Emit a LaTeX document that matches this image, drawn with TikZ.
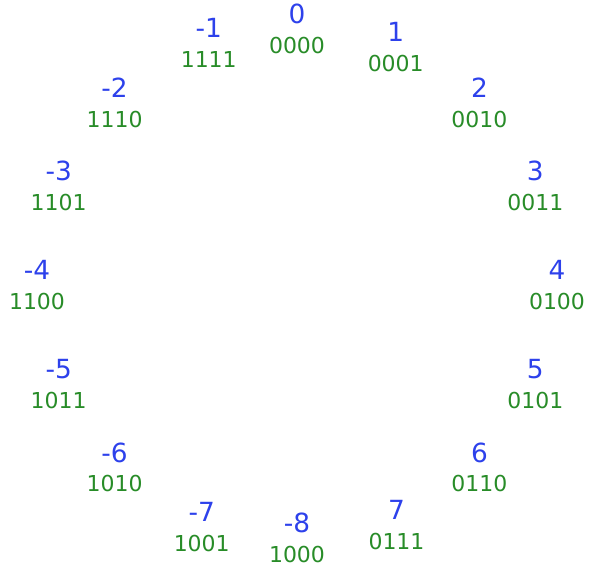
\documentclass[tikz,border=0pt]{standalone}
\usepackage{fontspec}
\setmainfont{DejaVu Sans}
\usepackage{xcolor}
\usepackage{tikz}
\usetikzlibrary{positioning}

\definecolor{numblue}{RGB}{45,65,235}
\definecolor{bingreen}{RGB}{40,140,40}
\newcommand{\decnum}[1]{{\color{numblue}\fontsize{15}{17}\selectfont #1}}
\newcommand{\binnum}[1]{{\color{bingreen}\fontsize{12.5}{17}\selectfont #1}}

\begin{document}
\begin{tikzpicture}[
  val/.style={align=center, inner sep=0pt, font=\fontsize{12.5}{17}\selectfont}
]
\useasboundingbox (-5.94,-5.64) rectangle (5.86,5.70);

% ----- right half (0 .. 7) -----
\node[val] (v0)  at (90:5.13)    {\decnum{0}\\\binnum{0000}};
\node[val] (v1)  at (67.5:5.16)  {\decnum{1}\\\binnum{0001}};
\node[val] (v2)  at (45:5.16)    {\decnum{2}\\\binnum{0010}};
\node[val] (v3)  at (22.5:5.16)  {\decnum{3}\\\binnum{0011}};
\node[val] (v4)  at (0:5.20)     {\decnum{4}\\\binnum{0100}};
\node[val] (v5)  at (-22.5:5.16) {\decnum{5}\\\binnum{0101}};
\node[val] (v6)  at (-45:5.16)   {\decnum{6}\\\binnum{0110}};
\node[val] (v7)  at (-67.5:5.2)  {\decnum{7}\\\binnum{0111}};

% ----- left half (-8 .. -1) -----
\node[val] (m8)  at (-90:5.06)   {\decnum{-8}\\\binnum{1000}};
\node[val] (m7)  at (-111.5:5.2) {\decnum{-7}\\\binnum{1001}};
\node[val] (m6)  at (-135:5.16)  {\decnum{-6}\\\binnum{1010}};
\node[val] (m5)  at (-157.5:5.16){\decnum{-5}\\\binnum{1011}};
\node[val] (m4)  at (180:5.20)   {\decnum{-4}\\\binnum{1100}};
\node[val] (m3)  at (157.5:5.16) {\decnum{-3}\\\binnum{1101}};
\node[val] (m2)  at (135:5.16)   {\decnum{-2}\\\binnum{1110}};
\node[val] (m1)  at (110:5.16)   {\decnum{-1}\\\binnum{1111}};

\end{tikzpicture}
\end{document}
